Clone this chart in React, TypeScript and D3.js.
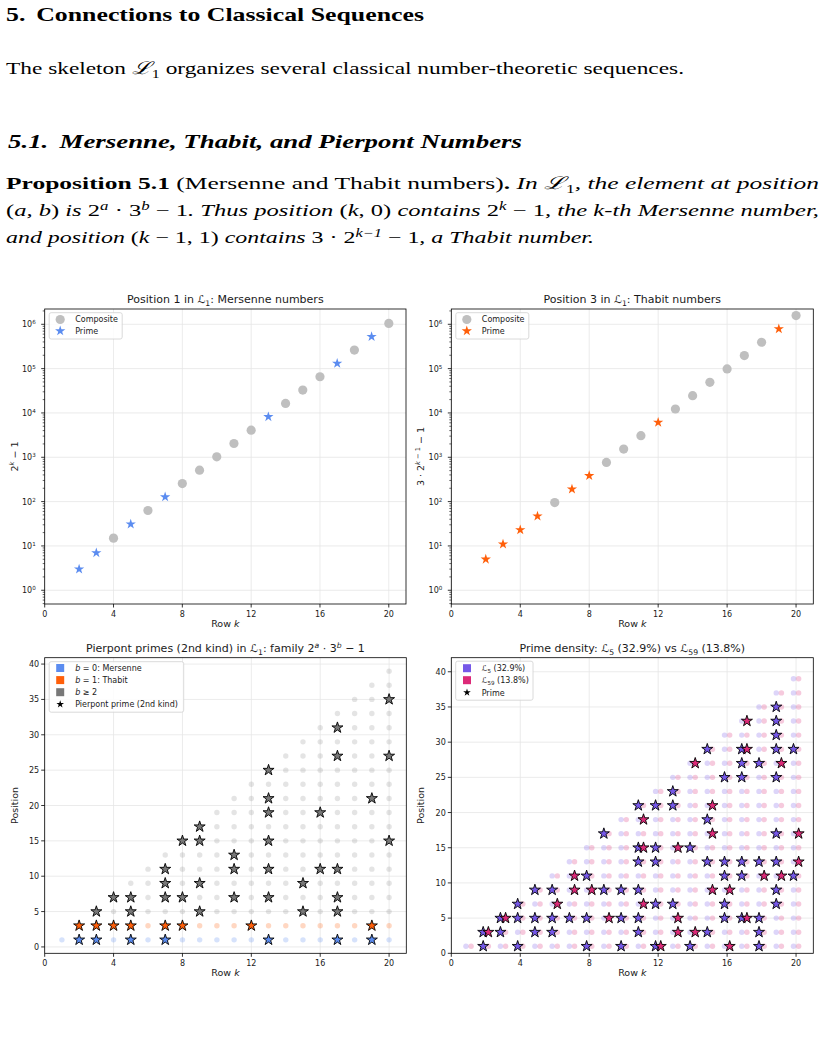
import React from 'react';
import * as d3 from 'd3';

// Rows k shown in the two log panels
const seqRows = [2, 3, 4, 5, 6, 7, 8, 9, 10, 11, 12, 13, 14, 15, 16, 17, 18, 19, 20];
// 2^k - 1 at position 1
const mersenneValues = [3, 7, 15, 31, 63, 127, 255, 511, 1023, 2047, 4095, 8191, 16383, 32767, 65535, 131071, 262143, 524287, 1048575];
const mersennePrimeRows = [2, 3, 5, 7, 13, 17, 19];
// 3*2^(k-1) - 1 at position 3
const thabitValues = [5, 11, 23, 47, 95, 191, 383, 767, 1535, 3071, 6143, 12287, 24575, 49151, 98303, 196607, 393215, 786431, 1572863];
const thabitPrimeRows = [2, 3, 4, 5, 7, 8, 12, 19];

// Triangle of odd positions: row k holds 1, 3, ..., rowTop
const gridRows = [1, 2, 3, 4, 5, 6, 7, 8, 9, 10, 11, 12, 13, 14, 15, 16, 17, 18, 19, 20];
const rowTop = [1, 3, 5, 7, 9, 11, 13, 15, 17, 19, 21, 23, 25, 27, 29, 31, 33, 35, 37, 39];

// prime positions per row in L1 (family 2^a 3^b - 1)
const pierpontPrimes: Record<number, number[]> = {
  2: [1, 3], 3: [1, 3, 5], 4: [3, 7], 5: [1, 3, 5, 7], 7: [1, 3, 7, 9, 11], 8: [3, 7, 15],
  9: [5, 9, 15, 17], 11: [7, 11, 13], 12: [3], 13: [1, 7, 11, 15, 19, 21, 25], 15: [5, 9],
  16: [11, 19], 17: [1, 5, 7, 11, 27, 31], 19: [1, 3, 21], 20: [15, 27, 35],
};

// prime positions per row in L5 and L59
const l5Primes: Record<number, number[]> = {
  2: [1, 3], 3: [3, 5], 4: [1, 5, 7], 5: [3, 5, 9], 6: [3, 5, 9], 7: [5], 8: [1, 5, 11],
  9: [9, 17], 10: [1, 5, 9], 11: [3, 5, 9, 13, 15, 21], 12: [1, 7, 13, 15, 21], 13: [7, 21, 23],
  14: [1, 15], 15: [3, 13, 19, 29], 16: [5, 7, 11, 13, 25], 17: [5, 11, 13, 25, 27, 29],
  18: [1, 3, 5, 13, 27], 19: [7, 9, 13, 17, 25, 29, 31, 33, 35], 20: [11, 29],
};
const l59Primes: Record<number, number[]> = {
  2: [3], 3: [5], 6: [7], 7: [9, 11], 8: [9], 9: [5], 11: [7, 15, 19], 12: [1], 13: [3, 5, 15],
  14: [3, 27], 15: [9, 17, 21], 16: [1, 9], 17: [5, 29, 33], 18: [11], 19: [11, 27], 20: [13, 17],
};
const l5Share = '32.9%';
const l59Share = '13.8%';

const xTicks = [0, 4, 8, 12, 16, 20];
const posTicks = [0, 5, 10, 15, 20, 25, 30, 35, 40];
const logMajor = [0, 1, 2, 3, 4, 5, 6];

const FONT = "'DejaVu Sans', sans-serif";
const SERIF = "'Liberation Serif', 'DejaVu Serif', serif";
const BLUE = '#5b8cf0';
const ORANGE = '#ff5f0a';
const SILVER = '#bfbfbf';
const GREY = '#787878';
const PURPLE = '#7658e8';
const PINK = '#dc2a78';
const GRID = '#e6e6e6';

type Box = { l: number; r: number; t: number; b: number };
type Scale = (v: number) => number;

const starPath = (r: number) => d3.symbol(d3.symbolStar, (r * r) / 0.8908130915292852)() as string;

const box1: Box = { l: 44.7, r: 406, t: 309, b: 604 };
const box2: Box = { l: 451.3, r: 813.3, t: 309, b: 604 };
const box3: Box = { l: 44.7, r: 406.3, t: 657.7, b: 953.3 };
const box4: Box = { l: 451.3, r: 813.3, t: 657.7, b: 953.3 };

// script L with a lowered index
const cal = (sub: string, size: number) => (
  <>
    ℒ<tspan baselineShift={-size * 0.25} fontSize={size * 0.7}>{sub}</tspan>
  </>
);
// raised exponent
const pow = (s: React.ReactNode, size: number, italic = true) => (
  <tspan baselineShift={size * 0.4} fontSize={size * 0.7} fontStyle={italic ? 'italic' : 'normal'}>{s}</tspan>
);

function Grid({ box, x, y, yVals }: { box: Box; x: Scale; y: Scale; yVals: number[] }) {
  return (
    <g stroke={GRID} strokeWidth={0.8}>
      {xTicks.map((t) => (
        <line key={'gx' + t} x1={x(t)} x2={x(t)} y1={box.t} y2={box.b} />
      ))}
      {yVals.map((v, i) => (
        <line key={'gy' + i} x1={box.l} x2={box.r} y1={y(v)} y2={y(v)} />
      ))}
    </g>
  );
}

function Frame({ box, x, title, yLabel }: { box: Box; x: Scale; title: React.ReactNode; yLabel: React.ReactNode }) {
  const cx = (box.l + box.r) / 2;
  const cy = (box.t + box.b) / 2;
  return (
    <g fontFamily={FONT} fill="#1a1a1a">
      <rect x={box.l} y={box.t} width={box.r - box.l} height={box.b - box.t} fill="none" stroke="#000" strokeWidth={0.8} />
      {xTicks.map((t) => (
        <g key={'xt' + t}>
          <line x1={x(t)} x2={x(t)} y1={box.b} y2={box.b + 3.5} stroke="#000" strokeWidth={0.8} />
          <text x={x(t)} y={box.b + 13} fontSize={8} textAnchor="middle">{t}</text>
        </g>
      ))}
      <text x={cx} y={box.b + 22.5} fontSize={9.5} textAnchor="middle">
        Row <tspan fontStyle="italic">k</tspan>
      </text>
      <text x={cx} y={box.t - 6} fontSize={11} textAnchor="middle">{title}</text>
      <g transform={`translate(${box.l - 27},${cy}) rotate(-90)`}>
        <text fontSize={9.5} textAnchor="middle">{yLabel}</text>
      </g>
    </g>
  );
}

function LogAxis({ box, y }: { box: Box; y: d3.ScaleLogarithmic<number, number> }) {
  const minor = y.ticks().filter((v) => Math.abs(Math.log10(v) - Math.round(Math.log10(v))) > 1e-6);
  return (
    <g fontFamily={FONT} fill="#1a1a1a" stroke="#000">
      {minor.map((v, i) => (
        <line key={'m' + i} x1={box.l - 2} x2={box.l} y1={y(v)} y2={y(v)} strokeWidth={0.6} />
      ))}
      {logMajor.map((n) => (
        <g key={'M' + n}>
          <line x1={box.l - 3.5} x2={box.l} y1={y(10 ** n)} y2={y(10 ** n)} strokeWidth={0.8} />
          <text x={box.l - 9} y={y(10 ** n) + 3} fontSize={8} textAnchor="end" stroke="none">
            10{pow(n, 8, false)}
          </text>
        </g>
      ))}
    </g>
  );
}

function LinAxis({ box, y }: { box: Box; y: Scale }) {
  return (
    <g fontFamily={FONT} fill="#1a1a1a">
      {posTicks.map((v) => (
        <g key={'p' + v}>
          <line x1={box.l - 3.5} x2={box.l} y1={y(v)} y2={y(v)} stroke="#000" strokeWidth={0.8} />
          <text x={box.l - 5.5} y={y(v) + 3} fontSize={8} textAnchor="end">{v}</text>
        </g>
      ))}
    </g>
  );
}

function LegendBox({ x, y, w, h }: { x: number; y: number; w: number; h: number }) {
  return <rect x={x} y={y} width={w} height={h} rx={2} fill="#fff" fillOpacity={0.85} stroke="#d0d0d0" strokeWidth={0.8} />;
}

function SeqPanel({ box, values, primeRows, color, title, yLabel }: {
  box: Box; values: number[]; primeRows: number[]; color: string; title: React.ReactNode; yLabel: React.ReactNode;
}) {
  const x = d3.scaleLinear().domain([0, 21]).range([box.l, box.r]);
  const y = d3.scaleLog().domain([10 ** -0.31, 10 ** 6.345]).range([box.b, box.t]);
  const pts = seqRows.map((k, i) => ({ k, v: values[i], prime: primeRows.includes(k) }));
  const star = starPath(5.4);
  return (
    <g>
      <Grid box={box} x={x} y={y} yVals={logMajor.map((n) => 10 ** n)} />
      {pts.filter((p) => !p.prime).map((p) => (
        <circle key={'c' + p.k} cx={x(p.k)} cy={y(p.v)} r={4.6} fill={SILVER} />
      ))}
      {pts.filter((p) => p.prime).map((p) => (
        <path key={'s' + p.k} d={star} transform={`translate(${x(p.k)},${y(p.v)})`} fill={color} />
      ))}
      <LogAxis box={box} y={y} />
      <Frame box={box} x={x} title={title} yLabel={yLabel} />
      <LegendBox x={box.l + 4.5} y={box.t + 3.7} w={73} h={26.3} />
      <circle cx={box.l + 15.5} cy={box.t + 10.5} r={4.6} fill={SILVER} />
      <path d={star} transform={`translate(${box.l + 15.5},${box.t + 22})`} fill={color} />
      <g fontFamily={FONT} fontSize={8} fill="#1a1a1a">
        <text x={box.l + 30.5} y={box.t + 13.3}>Composite</text>
        <text x={box.l + 30.5} y={box.t + 24.8}>Prime</text>
      </g>
    </g>
  );
}

function PierpontPanel() {
  const box = box3;
  const x = d3.scaleLinear().domain([0, 21]).range([box.l, box.r]);
  const y = d3.scaleLinear().domain([-0.9, 40.9]).range([box.b, box.t]);
  const famColor = (p: number) => (p === 1 ? BLUE : p === 3 ? ORANGE : GREY);
  const cells = gridRows.flatMap((k, i) => d3.range(1, rowTop[i] + 1, 2).map((p) => ({ k, p })));
  const star = starPath(5.8);
  const legendItems = [
    { c: BLUE, label: <><tspan fontStyle="italic">b</tspan> = 0: Mersenne</> },
    { c: ORANGE, label: <><tspan fontStyle="italic">b</tspan> = 1: Thabit</> },
    { c: GREY, label: <><tspan fontStyle="italic">b</tspan> ≥ 2</> },
  ];
  return (
    <g>
      <Grid box={box} x={x} y={y} yVals={posTicks} />
      {cells.map((c) => (
        <circle key={`d${c.k}-${c.p}`} cx={x(c.k)} cy={y(c.p)} r={2.7} fill={famColor(c.p)} fillOpacity={c.p > 3 ? 0.2 : 0.25} />
      ))}
      {Object.entries(pierpontPrimes).flatMap(([k, ps]) =>
        ps.map((p) => (
          <path key={`s${k}-${p}`} d={star} transform={`translate(${x(+k)},${y(p)})`} fill={famColor(p)} stroke="#000" strokeWidth={0.9} />
        )),
      )}
      <LinAxis box={box} y={y} />
      <Frame
        box={box}
        x={x}
        title={<>Pierpont primes (2nd kind) in {cal('1', 11)}: family 2{pow('a', 11)} · 3{pow('b', 11)} − 1</>}
        yLabel="Position"
      />
      <LegendBox x={box.l + 4.5} y={box.t + 4} w={134.5} h={50.5} />
      {legendItems.map((it, i) => (
        <rect key={'lp' + i} x={box.l + 11.5} y={box.t + 6.3 + i * 12.1} width={8} height={8} fill={it.c} />
      ))}
      <path d={starPath(4)} transform={`translate(${box.l + 15.5},${box.t + 46.6})`} fill="#000" />
      <g fontFamily={FONT} fontSize={8} fill="#1a1a1a">
        {legendItems.map((it, i) => (
          <text key={'lt' + i} x={box.l + 30.5} y={box.t + 13.3 + i * 12.1}>{it.label}</text>
        ))}
        <text x={box.l + 30.5} y={box.t + 49.6}>Pierpont prime (2nd kind)</text>
      </g>
    </g>
  );
}

function DensityPanel() {
  const box = box4;
  const x = d3.scaleLinear().domain([0, 21]).range([box.l, box.r]);
  const y = d3.scaleLinear().domain([0, 42]).range([box.b, box.t]);
  const shift = 0.15;
  const cells = gridRows.flatMap((k, i) => d3.range(1, rowTop[i] + 1, 2).map((p) => ({ k, p })));
  const star = starPath(5.8);
  const series = [
    { primes: l5Primes, color: PURPLE, dx: -shift },
    { primes: l59Primes, color: PINK, dx: shift },
  ];
  return (
    <g>
      <Grid box={box} x={x} y={y} yVals={posTicks} />
      {series.map((s, si) =>
        cells.map((c) => (
          <circle key={`d${si}-${c.k}-${c.p}`} cx={x(c.k + s.dx)} cy={y(c.p)} r={2.7} fill={s.color} fillOpacity={0.25} />
        )),
      )}
      {series.map((s, si) =>
        Object.entries(s.primes).flatMap(([k, ps]) =>
          ps.map((p) => (
            <path key={`s${si}-${k}-${p}`} d={star} transform={`translate(${x(+k + s.dx)},${y(p)})`} fill={s.color} stroke="#000" strokeWidth={0.9} />
          )),
        ),
      )}
      <LinAxis box={box} y={y} />
      <Frame
        box={box}
        x={x}
        title={<>Prime density: {cal('5', 11)} ({l5Share}) vs {cal('59', 11)} ({l59Share})</>}
        yLabel="Position"
      />
      <LegendBox x={box.l + 4.4} y={box.t + 3.5} w={77.3} h={39} />
      <rect x={box.l + 11.7} y={box.t + 6.5} width={8} height={8} fill={PURPLE} />
      <rect x={box.l + 11.7} y={box.t + 18.5} width={8} height={8} fill={PINK} />
      <path d={starPath(4)} transform={`translate(${box.l + 15.7},${box.t + 34.8})`} fill="#000" />
      <g fontFamily={FONT} fontSize={8} fill="#1a1a1a">
        <text x={box.l + 30.4} y={box.t + 13.5}>{cal('5', 8)} ({l5Share})</text>
        <text x={box.l + 30.4} y={box.t + 25.5}>{cal('59', 8)} ({l59Share})</text>
        <text x={box.l + 30.4} y={box.t + 37.8}>Prime</text>
      </g>
    </g>
  );
}

function TextBlock() {
  const sup = (s: string) => (
    <tspan baselineShift={6.5} fontSize={12} fontStyle="italic">{s}</tspan>
  );
  return (
    <g fontFamily={SERIF} fill="#000">
      <text x={6} y={21} fontSize={19} fontWeight="bold" textLength={418} lengthAdjust="spacingAndGlyphs">
        5.<tspan dx={8}>Connections to Classical Sequences</tspan>
      </text>
      <text x={6} y={74} fontSize={17.5} textLength={678} lengthAdjust="spacingAndGlyphs">
        The skeleton <tspan fontStyle="italic">ℒ</tspan><tspan baselineShift={-4} fontSize={12}>1</tspan> organizes several classical number-theoretic sequences.
      </text>
      <text x={8} y={148} fontSize={19} fontWeight="bold" fontStyle="italic" textLength={514} lengthAdjust="spacingAndGlyphs">
        5.1.<tspan dx={8}>Mersenne, Thabit, and Pierpont Numbers</tspan>
      </text>
      <text x={6} y={189} fontSize={17.5} textLength={813} lengthAdjust="spacingAndGlyphs">
        <tspan fontWeight="bold">Proposition 5.1</tspan> (Mersenne and Thabit numbers)<tspan fontWeight="bold">.</tspan>
        <tspan fontStyle="italic"> In ℒ</tspan><tspan baselineShift={-4} fontSize={12}>1</tspan><tspan fontStyle="italic">, the element at position</tspan>
      </text>
      <text x={6} y={216} fontSize={17.5} textLength={813} lengthAdjust="spacingAndGlyphs">
        (<tspan fontStyle="italic">a, b</tspan>) <tspan fontStyle="italic">is</tspan> 2{sup('a')} · 3{sup('b')} − 1<tspan fontStyle="italic">. Thus position</tspan> (<tspan fontStyle="italic">k</tspan>, 0) <tspan fontStyle="italic">contains</tspan> 2{sup('k')} − 1<tspan fontStyle="italic">, the k-th Mersenne number,</tspan>
      </text>
      <text x={6} y={243} fontSize={17.5} textLength={588} lengthAdjust="spacingAndGlyphs">
        <tspan fontStyle="italic">and position</tspan> (<tspan fontStyle="italic">k</tspan> − 1, 1) <tspan fontStyle="italic">contains</tspan> 3 · 2{sup('k−1')} − 1<tspan fontStyle="italic">, a Thabit number.</tspan>
      </text>
    </g>
  );
}

export default function App() {
  return (
    <svg width={826} height={1043} viewBox="0 0 826 1043" style={{ position: 'absolute', left: 0, top: 0, background: '#fff' }}>
      <rect width={826} height={1043} fill="#fff" />
      <TextBlock />
      <SeqPanel
        box={box1}
        values={mersenneValues}
        primeRows={mersennePrimeRows}
        color={BLUE}
        title={<>Position 1 in {cal('1', 11)}: Mersenne numbers</>}
        yLabel={<>2{pow('k', 9.5)} − 1</>}
      />
      <SeqPanel
        box={box2}
        values={thabitValues}
        primeRows={thabitPrimeRows}
        color={ORANGE}
        title={<>Position 3 in {cal('1', 11)}: Thabit numbers</>}
        yLabel={<>3 · 2{pow(<><tspan fontStyle="italic">k</tspan><tspan fontStyle="normal"> − 1</tspan></>, 9.5, false)} − 1</>}
      />
      <PierpontPanel />
      <DensityPanel />
    </svg>
  );
}
